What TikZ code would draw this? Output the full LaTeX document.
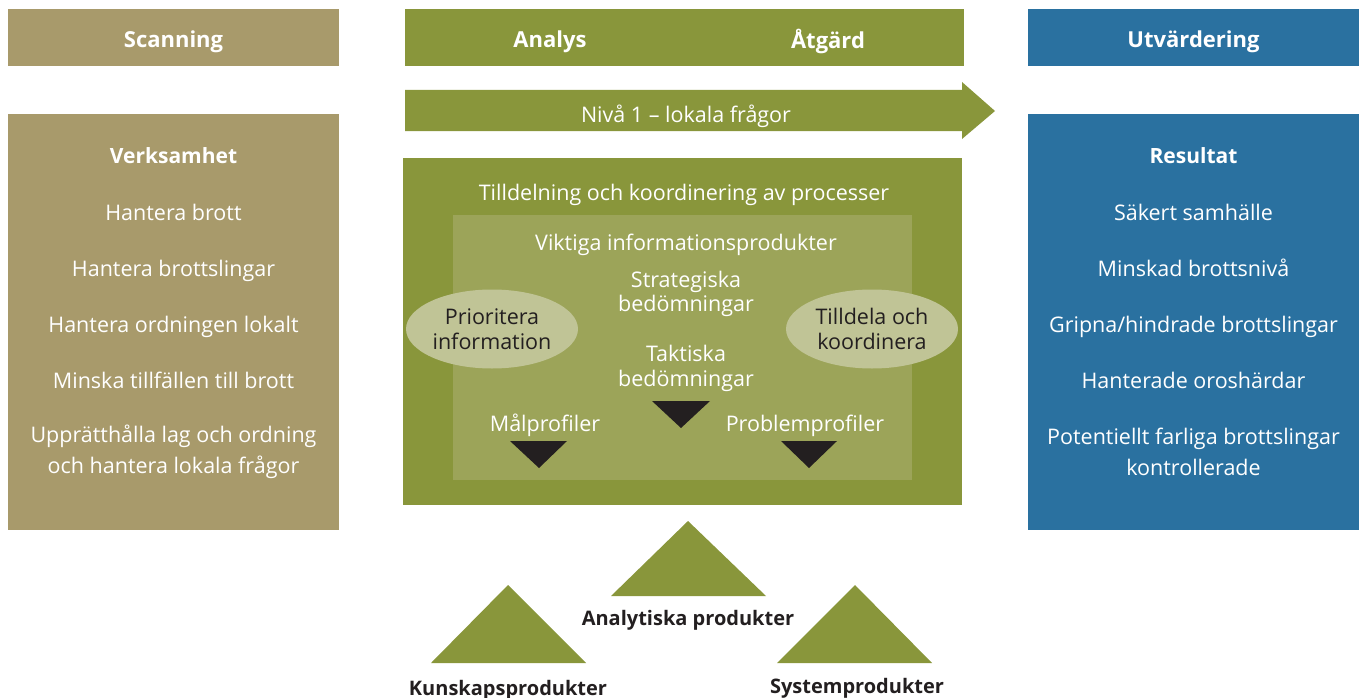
\documentclass[tikz,border=0pt]{standalone}
\usepackage{fontspec}
\setmainfont{Open Sans}
\usetikzlibrary{shapes.geometric}

\definecolor{scantan}{HTML}{A89A6B}
\definecolor{actgreen}{HTML}{89963B}
\definecolor{innergreen}{HTML}{9CA459}
\definecolor{ovalgreen}{HTML}{C0C496}
\definecolor{evalblue}{HTML}{2A71A0}
\definecolor{darkink}{HTML}{231F20}

\begin{document}
\begin{tikzpicture}[x=1pt, y=-1pt,
    % Styles
    header/.style={inner sep=0pt, minimum width=331pt, minimum height=57pt},
    headtext/.style={text=white, text depth=0pt, font=\fontsize{22}{26}\selectfont\bfseries},
    sidebox/.style={inner sep=0pt, minimum width=331pt, minimum height=416pt},
    item/.style={text=white, text depth=0pt, font=\fontsize{21.5}{31}\selectfont},
    twoline/.style={text=white, align=center, font=\fontsize{21.5}{31}\selectfont},
    itemhead/.style={text=white, text depth=0pt, font=\fontsize{21}{24}\selectfont\bfseries},
    inbox/.style={text=white, align=center, font=\fontsize{21.5}{24.5}\selectfont},
    oval/.style={ellipse, fill=ovalgreen, text=darkink, align=center, inner sep=0pt, minimum width=172pt, minimum height=79pt, font=\fontsize{21.5}{25}\selectfont},
    marker/.style={fill=darkink},
    product/.style={fill=actgreen},
    productlabel/.style={text=darkink, text depth=0pt, font=\fontsize{20}{22}\selectfont\bfseries},
]

\useasboundingbox (0,0) rectangle (1364,698);

% Headers
\node[header, fill=scantan] (scan) at (173.5, 37.5) {};
\node[headtext] (scantext) at (173.5, 39) {Scanning};
\node[header, fill=actgreen, minimum width=559pt] (act) at (684.5, 37.5) {};
\node[headtext] (analys) at (550, 39) {Analys};
\node[headtext] (atgard) at (828, 39) {Åtgärd};
\node[header, fill=evalblue] (eval) at (1193.5, 37.5) {};
\node[headtext] (evaltext) at (1193.5, 39) {Utvärdering};

% Level arrow
\fill[actgreen] (405,90) -- (962,90) -- (962,82) -- (995,111) -- (962,139) -- (962,131) -- (405,131) -- cycle;
\node[item] (niva) at (686, 114) {Nivå 1 – lokala frågor};

% LEFT: Scanning column
\node[sidebox, fill=scantan] (verks) at (173.5, 322) {};
\node[itemhead] (verkshead) at (173.5, 156) {Verksamhet};
\foreach \txt [count=\i] in {Hantera brott, Hantera brottslingar, Hantera ordningen lokalt, Minska tillfällen till brott}
    \node[item] (verks\i) at (173.5, 156+56*\i) {\txt};
\node[twoline] (verks5) at (173.5, 451.5) {Upprätthålla lag och ordning\\och hantera lokala frågor};

% RIGHT: Evaluation column
\node[sidebox, fill=evalblue] (result) at (1193.5, 322) {};
\node[itemhead] (resulthead) at (1193.5, 156) {Resultat};
\foreach \txt [count=\i] in {Säkert samhälle, Minskad brottsnivå, Gripna/hindrade brottslingar, Hanterade oroshärdar}
    \node[item] (result\i) at (1193.5, 156+56*\i) {\txt};
\node[twoline] (result5) at (1193.5, 451.5) {Potentiellt farliga brottslingar\\kontrollerade};

% CENTER: process box
\node[fill=actgreen, inner sep=0pt, minimum width=559pt, minimum height=347pt] (process) at (682.5, 331.5) {};
\node[item] (processtitle) at (684, 192) {Tilldelning och koordinering av processer};
\node[fill=innergreen, inner sep=0pt, minimum width=459pt, minimum height=265pt] (infobox) at (682.5, 347.5) {};
\node[item] (infotitle) at (686, 242) {Viktiga informationsprodukter};
\node[inbox] (strategic) at (686, 294) {Strategiska\\bedömningar};
\node[inbox] (tactical) at (686, 368.5) {Taktiska\\bedömningar};
\node[item] (targets) at (545, 423) {Målprofiler};
\node[item] (problems) at (805, 423) {Problemprofiler};

% Ovals
\node[oval] (prio) at (492, 329) {Prioritera\\information};
\node[oval] (assign) at (872, 329) {Tilldela och\\koordinera};

% Markers
\fill[marker] (652,401) -- (710,401) -- (681,428) -- cycle;
\fill[marker] (510,441) -- (567,441) -- (539,468) -- cycle;
\fill[marker] (781,441) -- (837,441) -- (809,468) -- cycle;

% BOTTOM: products
\fill[product] (611,596) -- (766,596) -- (688,521) -- cycle;
\fill[product] (431,663) -- (586,663) -- (508,585) -- cycle;
\fill[product] (777,663) -- (932,663) -- (855,585) -- cycle;
\node[productlabel] (analytic) at (688, 618) {Analytiska produkter};
\node[productlabel] (knowledge) at (508, 688) {Kunskapsprodukter};
\node[productlabel] (systems) at (857, 686) {Systemprodukter};

\end{tikzpicture}
\end{document}
